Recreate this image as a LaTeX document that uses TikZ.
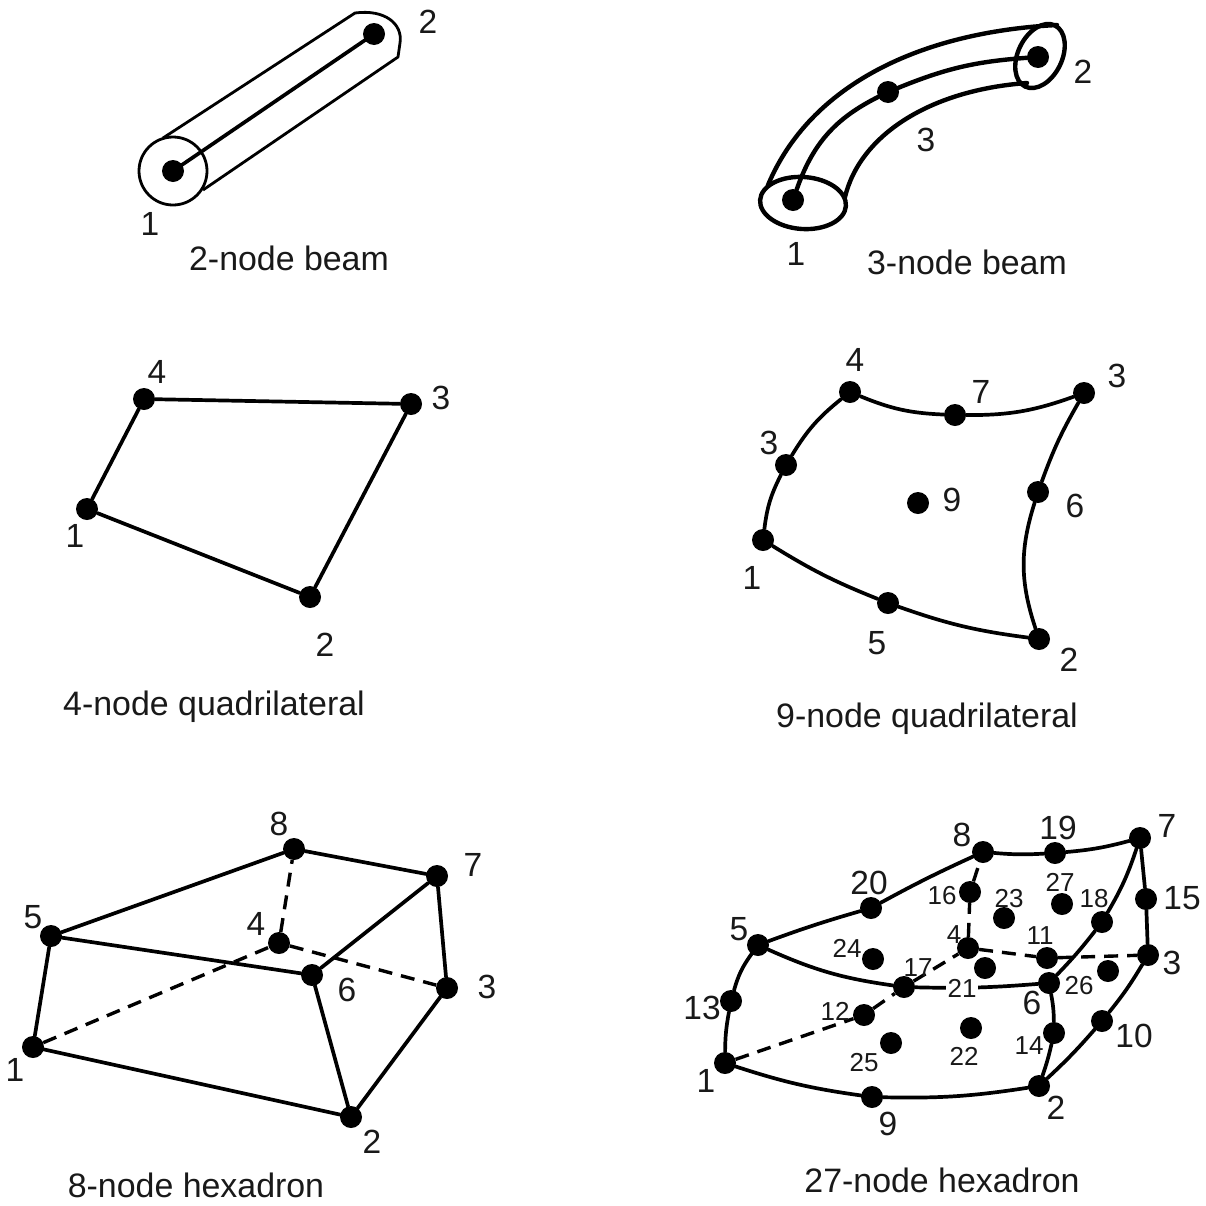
\documentclass[tikz,border=0pt]{standalone}
\usepackage{fontspec}
\setmainfont{Liberation Sans}
\begin{document}
\begin{tikzpicture}[x=1pt,y=-1pt,
  dotnode/.style={circle,fill=black,draw=none,minimum size=22pt,inner sep=0pt},
  solidedge/.style={draw=black,line width=3.7pt,line cap=round},
  heavyedge/.style={draw=black,line width=4.4pt,line cap=round},
  thinedge/.style={draw=black,line width=2.8pt,line join=round},
  dashedge/.style={draw=black,line width=3.4pt,dash pattern=on 14pt off 9pt},
  numbig/.style={font=\fontsize{33.5}{34}\selectfont,inner sep=0pt,text=black!90},
  numsmall/.style={font=\fontsize{26}{26}\selectfont,inner sep=0pt,text=black!90},
  captext/.style={font=\fontsize{33.9}{34}\selectfont,inner sep=0pt,text=black!90}]
\useasboundingbox[fill=white] (0,0) rectangle (1206,1205);

% ---- 2-node beam
\draw[thinedge] (173,171) circle [radius=34pt];
\draw[thinedge] (163,138) -- (355,13) .. controls (385,9) and (403,24) .. (400,43) -- (398,57) -- (203,190);
\node[dotnode] (a1) at (173,171) {};
\node[dotnode] (a2) at (374,34) {};
\draw[solidedge] (a1) -- (a2);
\node[numbig] (al1) at (150,224) {1};
\node[numbig] (al2) at (428,22) {2};
\node[captext] (ac) at (289,258) {2-node beam};

% ---- 3-node beam
\draw[heavyedge] (803,203) ellipse [x radius=43pt, y radius=26pt, rotate=-4];
\draw[heavyedge] (1040,56) ellipse [x radius=34pt, y radius=22pt, rotate=64];
\draw[heavyedge] (768,185) .. controls (810,85) and (920,32) .. (1057,25);
\draw[heavyedge] (845,197) .. controls (860,135) and (930,90) .. (1027,83);
\node[dotnode] (b1) at (793,200) {};
\node[dotnode] (b3) at (888,92) {};
\node[dotnode] (b2) at (1038,57) {};
\draw[heavyedge] (b1) to[bend left=22] (b3);
\draw[heavyedge] (b3) to[bend left=9] (b2);
\node[numbig] (bl1) at (796,254) {1};
\node[numbig] (bl2) at (1083,72) {2};
\node[numbig] (bl3) at (926,140) {3};
\node[captext] (bc) at (967,262) {3-node beam};

% ---- 4-node quadrilateral
\node[dotnode] (c1) at (87,509) {};
\node[dotnode] (c2) at (310,597) {};
\node[dotnode] (c3) at (411,404) {};
\node[dotnode] (c4) at (144,399) {};
\draw[solidedge] (c1) -- (c2) -- (c3) -- (c4) -- (c1);
\node[numbig] (cl1) at (75,536) {1};
\node[numbig] (cl2) at (325,645) {2};
\node[numbig] (cl3) at (441,398) {3};
\node[numbig] (cl4) at (157,372) {4};
\node[captext] (cc) at (214,707) {4-node quadrilateral};

% ---- 9-node quadrilateral
\node[dotnode] (d1) at (763,540) {};
\node[dotnode] (d2) at (1039,639) {};
\node[dotnode] (d3) at (1084,393) {};
\node[dotnode] (d4) at (850,392) {};
\node[dotnode] (d5) at (888,603) {};
\node[dotnode] (d6) at (1038,492) {};
\node[dotnode] (d7) at (955,415) {};
\node[dotnode] (d8) at (786,465) {};
\node[dotnode] (d9) at (918,503) {};
\draw[solidedge] (d1) to[bend left=10] (d8);
\draw[solidedge] (d8) to[bend left=10] (d4);
\draw[solidedge] (d4) to[bend right=10] (d7);
\draw[solidedge] (d7) to[bend right=10] (d3);
\draw[solidedge] (d3) to[bend right=5] (d6);
\draw[solidedge] (d6) to[bend right=18] (d2);
\draw[solidedge] (d1) to[bend right=5] (d5);
\draw[solidedge] (d5) to[bend right=6] (d2);
\node[numbig] (dl1) at (752,578) {1};
\node[numbig] (dl2) at (1069,660) {2};
\node[numbig] (dl3) at (1117,376) {3};
\node[numbig] (dl4) at (855,360) {4};
\node[numbig] (dl5) at (877,643) {5};
\node[numbig] (dl6) at (1075,506) {6};
\node[numbig] (dl7) at (981,392) {7};
\node[numbig] (dl8) at (769,443) {3};
\node[numbig] (dl9) at (952,500) {9};
\node[captext] (dc) at (927,719) {9-node quadrilateral};

% ---- 8-node hexadron
\node[dotnode] (e1) at (33,1047) {};
\node[dotnode] (e2) at (351,1117) {};
\node[dotnode] (e3) at (447,988) {};
\node[dotnode] (e4) at (279,943) {};
\node[dotnode] (e5) at (51,936) {};
\node[dotnode] (e6) at (312,975) {};
\node[dotnode] (e7) at (437,876) {};
\node[dotnode] (e8) at (294,849) {};
\draw[solidedge] (e1) -- (e2) -- (e3) -- (e7) -- (e8) -- (e5) -- (e1);
\draw[solidedge] (e5) -- (e6) -- (e7);
\draw[solidedge] (e6) -- (e2);
\draw[dashedge] (e1) -- (e4);
\draw[dashedge] (e4) -- (e3);
\draw[dashedge] (e4) -- (e8);
\node[numbig] (el1) at (15,1070) {1};
\node[numbig] (el2) at (372,1142) {2};
\node[numbig] (el3) at (487,987) {3};
\node[numbig] (el4) at (256,924) {4};
\node[numbig] (el5) at (33,917) {5};
\node[numbig] (el6) at (347,990) {6};
\node[numbig] (el7) at (473,865) {7};
\node[numbig] (el8) at (279,824) {8};
\node[captext] (ec) at (196,1185) {8-node hexadron};

% ---- 27-node hexadron
\node[dotnode] (f1) at (725,1063) {};
\node[dotnode] (f2) at (1039,1086) {};
\node[dotnode] (f3) at (1148,955) {};
\node[dotnode] (f4) at (968,948) {};
\node[dotnode] (f5) at (758,945) {};
\node[dotnode] (f6) at (1049,983) {};
\node[dotnode] (f7) at (1140,838) {};
\node[dotnode] (f8) at (983,852) {};
\node[dotnode] (f9) at (872,1097) {};
\node[dotnode] (f10) at (1102,1021) {};
\node[dotnode] (f11) at (1047,958) {};
\node[dotnode] (f12) at (864,1015) {};
\node[dotnode] (f13) at (731,1001) {};
\node[dotnode] (f14) at (1054,1033) {};
\node[dotnode] (f15) at (1146,899) {};
\node[dotnode] (f16) at (970,892) {};
\node[dotnode] (f17) at (904,987) {};
\node[dotnode] (f18) at (1102,922) {};
\node[dotnode] (f19) at (1055,853) {};
\node[dotnode] (f20) at (871,908) {};
\node[dotnode] (f21) at (985,968) {};
\node[dotnode] (f22) at (971,1028) {};
\node[dotnode] (f23) at (1004,918) {};
\node[dotnode] (f24) at (873,959) {};
\node[dotnode] (f25) at (891,1043) {};
\node[dotnode] (f26) at (1108,971) {};
\node[dotnode] (f27) at (1062,904) {};
\draw[solidedge] (f1) to[bend left=5] (f13);
\draw[solidedge] (f13) to[bend left=10] (f5);
\draw[solidedge] (f5) to[bend left=2] (f20);
\draw[solidedge] (f20) to[bend left=2] (f8);
\draw[solidedge] (f8) to[bend right=4] (f19);
\draw[solidedge] (f19) to[bend right=5] (f7);
\draw[solidedge] (f7) -- (f15) -- (f3);
\draw[solidedge] (f1) to[bend right=5] (f9);
\draw[solidedge] (f9) to[bend right=5] (f2);
\draw[solidedge] (f2) to[bend right=3] (f10);
\draw[solidedge] (f10) to[bend right=4] (f3);
\draw[solidedge] (f2) to[bend right=3] (f14);
\draw[solidedge] (f14) to[bend right=5] (f6);
\draw[solidedge] (f5) to[bend right=8] (f17);
\draw[solidedge] (f17) to[bend right=3] (f6);
\draw[solidedge] (f6) to[bend right=3] (f18);
\draw[solidedge] (f18) to[bend right=6] (f7);
\draw[dashedge] (f1) -- (f12);
\draw[dashedge] (f12) -- (f17);
\draw[dashedge] (f17) -- (f4);
\draw[dashedge] (f4) -- (f16);
\draw[dashedge] (f16) -- (f8);
\draw[dashedge] (f4) -- (f11);
\draw[dashedge] (f11) -- (f3);
\node[numbig] (fl1) at (706,1081) {1};
\node[numbig] (fl2) at (1056,1108) {2};
\node[numbig] (fl3) at (1172,963) {3};
\node[numsmall] (fl4) at (954,935) {4};
\node[numbig] (fl5) at (739,929) {5};
\node[numbig] (fl6) at (1032,1003) {6};
\node[numbig] (fl7) at (1167,826) {7};
\node[numbig] (fl8) at (962,835) {8};
\node[numbig] (fl9) at (888,1124) {9};
\node[numbig] (fl10) at (1134,1036) {10};
\node[numsmall] (fl11) at (1040,936) {11};
\node[numsmall] (fl12) at (835,1011) {12};
\node[numbig] (fl13) at (702,1008) {13};
\node[numsmall] (fl14) at (1029,1046) {14};
\node[numbig] (fl15) at (1182,898) {15};
\node[numsmall] (fl16) at (942,896) {16};
\node[numsmall] (fl17) at (918,968) {17};
\node[numsmall] (fl18) at (1094,899) {18};
\node[numbig] (fl19) at (1058,828) {19};
\node[numbig] (fl20) at (869,883) {20};
\node[numsmall,fill=white,inner sep=2pt] (fl21) at (962,988) {21};
\node[numsmall] (fl22) at (964,1056) {22};
\node[numsmall] (fl23) at (1009,899) {23};
\node[numsmall] (fl24) at (847,948) {24};
\node[numsmall] (fl25) at (864,1063) {25};
\node[numsmall] (fl26) at (1079,986) {26};
\node[numsmall] (fl27) at (1060,882) {27};
\node[captext] (fc) at (942,1180) {27-node hexadron};
\end{tikzpicture}
\end{document}
